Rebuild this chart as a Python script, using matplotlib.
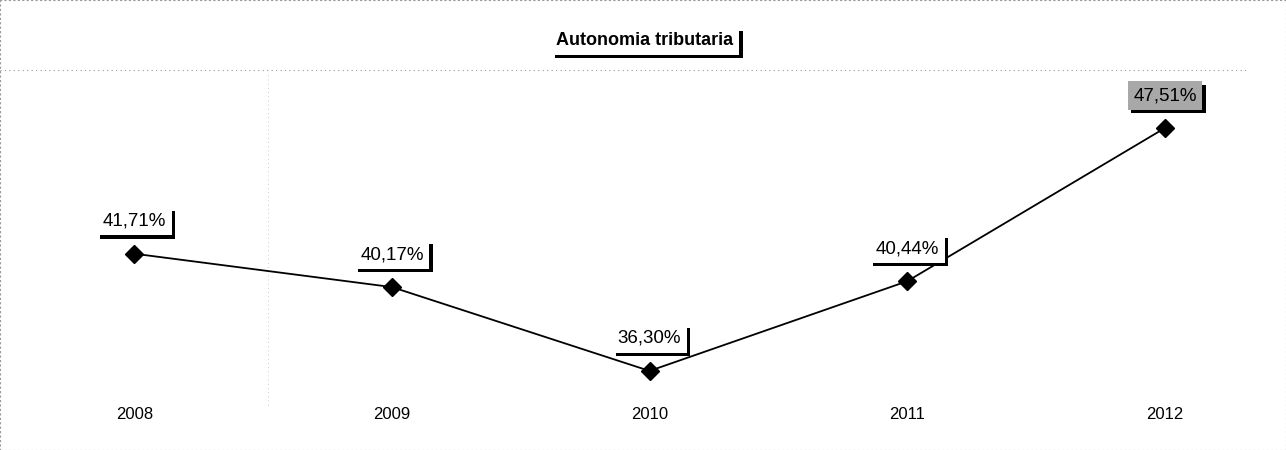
import matplotlib.pyplot as plt
import matplotlib.patheffects as pe
import matplotlib.transforms as mtransforms

plt.rcParams['font.family'] = ['Liberation Sans', 'DejaVu Sans']

anni = [2008, 2009, 2010, 2011, 2012]
autonomia = [41.71, 40.17, 36.30, 40.44, 47.51]
etichette = ['41,71%', '40,17%', '36,30%', '40,44%', '47,51%']

fig = plt.figure(figsize=(12.86, 4.5), dpi=100)
ax = fig.add_axes([0, 0, 1, 1])
ax.set_xlim(2007.479, 2012.47)
ax.set_ylim(32.65, 53.42)

ax.plot(anni, autonomia, color='black', linewidth=1.3, marker='D',
        markersize=9, markerfacecolor='black', markeredgecolor='black', zorder=3)

ombra = [pe.SimplePatchShadow(offset=(2.5, -2.5), shadow_rgbFace='black', alpha=1.0), pe.Normal()]

# anni sotto il grafico
trans = mtransforms.blended_transform_factory(ax.transData, ax.transAxes)
for i, (a, v, t) in enumerate(zip(anni, autonomia, etichette)):
    colore = '#a8a8a8' if i == len(anni) - 1 else 'white'
    txt = ax.text(a, v + 1.5, t, ha='center', va='center', fontsize=13.5,
                  bbox=dict(boxstyle='square,pad=0.3', facecolor=colore, edgecolor='none'),
                  zorder=4)
    txt.get_bbox_patch().set_path_effects(ombra)
    ax.text(a, 0.078, str(a), ha='center', va='center', fontsize=12, transform=trans)

titolo = ax.text(0.5016, 0.909, 'Autonomia tributaria', ha='center', va='center',
                 fontsize=13, fontweight='bold', transform=ax.transAxes,
                 bbox=dict(boxstyle='square,pad=0.3', facecolor='white', edgecolor='none'))
titolo.get_bbox_patch().set_path_effects(ombra)

# bordi tratteggiati tenui come nella scansione
ax.axhline(50.19, xmin=0, xmax=0.97, color='#999999', linestyle=(0, (1, 3)), linewidth=0.8)
ax.axvline(2008.52, ymin=0.1, ymax=0.84, color='#bbbbbb', linestyle=(0, (1, 4)), linewidth=0.6)
for s in ax.spines.values():
    s.set_color('#999999')
    s.set_linestyle((0, (1, 3)))
    s.set_linewidth(0.8)

ax.set_xticks([])
ax.set_yticks([])

plt.savefig('out.png', dpi=100)
